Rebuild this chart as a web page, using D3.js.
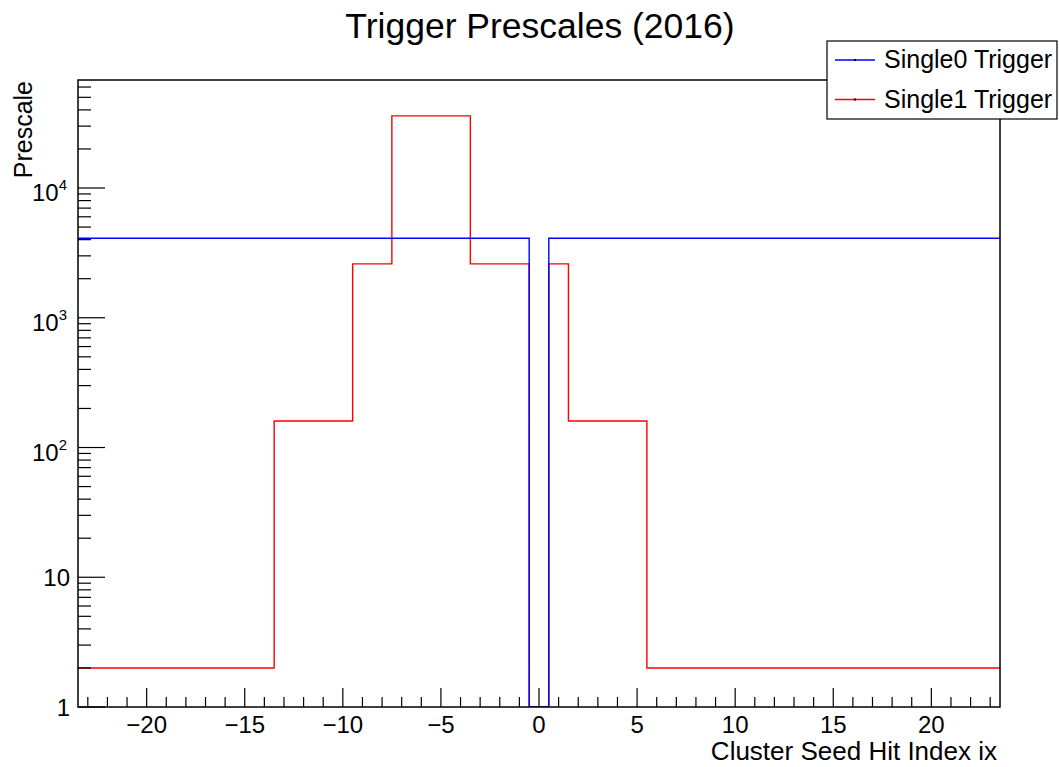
<!DOCTYPE html>
<html>
<head>
<meta charset="utf-8">
<script src="https://cdn.jsdelivr.net/npm/d3@7"></script>
<style>
  body { margin: 0; background: #fff; }
  svg text { font-family: "Liberation Sans", Helvetica, Arial, sans-serif; fill: #000; }
</style>
</head>
<body>
<div id="chart"></div>
<script>
// bin centres (cluster seed hit index ix), one bin per integer
var binCenters = [-23, -22, -21, -20, -19, -18, -17, -16, -15, -14, -13, -12, -11, -10, -9, -8,
                  -7, -6, -5, -4, -3, -2, -1, 0, 1, 2, 3, 4, 5, 6, 7, 8, 9, 10, 11, 12, 13, 14,
                  15, 16, 17, 18, 19, 20, 21, 22, 23];

var single0 = [4096, 4096, 4096, 4096, 4096, 4096, 4096, 4096, 4096, 4096, 4096, 4096, 4096, 4096, 4096, 4096,
               4096, 4096, 4096, 4096, 4096, 4096, 4096, 0, 4096, 4096, 4096, 4096, 4096, 4096, 4096, 4096,
               4096, 4096, 4096, 4096, 4096, 4096, 4096, 4096, 4096, 4096, 4096, 4096, 4096, 4096, 4096];

var single1 = [2, 2, 2, 2, 2, 2, 2, 2, 2, 2, 160, 160, 160, 160, 2600, 2600,
               36000, 36000, 36000, 36000, 2600, 2600, 2600, 0, 2600, 160, 160, 160, 160, 2, 2, 2,
               2, 2, 2, 2, 2, 2, 2, 2, 2, 2, 2, 2, 2, 2, 2];

var xTickValues = [-20, -15, -10, -5, 0, 5, 10, 15, 20];
var yTickValues = [1, 10, 100, 1000, 10000];
var xDomain = [-23.5, 23.5];
var yDomain = [1, 68000];

var seriesList = [
    { name: "Single0 Trigger", values: single0, color: "#0000ff" },
    { name: "Single1 Trigger", values: single1, color: "#ff0000" }
];

var W = 1059, H = 767;
var frame = { left: 78, right: 1000, top: 80, bottom: 707 };

var svg = d3.select("#chart").append("svg")
    .attr("width", W)
    .attr("height", H);

var x = d3.scaleLinear().domain(xDomain).range([frame.left, frame.right]);
var y = d3.scaleLog().domain(yDomain).range([frame.bottom, frame.top]);

svg.append("clipPath").attr("id", "clip")
  .append("rect")
    .attr("x", frame.left).attr("y", frame.top)
    .attr("width", frame.right - frame.left)
    .attr("height", frame.bottom - frame.top);

// histogram outlines as steps; empty bins fall to the bottom of the frame
var step = d3.line()
    .x(function (d) { return x(d[0]); })
    .y(function (d) { return y(Math.max(d[1], yDomain[0])); })
    .curve(d3.curveStepAfter);

function stepPoints(values) {
    var pts = binCenters.map(function (c, i) { return [c - 0.5, values[i]]; });
    pts.push([binCenters[binCenters.length - 1] + 0.5, values[values.length - 1]]);
    return pts;
}

var plot = svg.append("g").attr("clip-path", "url(#clip)");

// red first, blue on top
[seriesList[1], seriesList[0]].forEach(function (s) {
    plot.append("path")
        .attr("d", step(stepPoints(s.values)))
        .attr("fill", "none")
        .attr("stroke", s.color)
        .attr("stroke-width", 1.4);
});

// x axis ticks (inward)
var xAxis = svg.append("g");
var xMinor = d3.range(-23, 24);
xAxis.selectAll("line.minor")
    .data(xMinor)
    .enter().append("line")
    .attr("x1", function (d) { return x(d); })
    .attr("x2", function (d) { return x(d); })
    .attr("y1", frame.bottom)
    .attr("y2", function (d) { return d % 5 === 0 ? frame.bottom - 19 : frame.bottom - 10; })
    .attr("stroke", "#000")
    .attr("stroke-width", 1.2);

xAxis.selectAll("text")
    .data(xTickValues)
    .enter().append("text")
    .attr("x", function (d) { return x(d); })
    .attr("y", 733)
    .attr("text-anchor", "middle")
    .style("font-size", "24px")
    .text(function (d) { return d < 0 ? "\u2212" + Math.abs(d) : String(d); });

// y axis ticks (inward)
var yAxis = svg.append("g");
var yMinor = [];
[1, 10, 100, 1000, 10000].forEach(function (dec) {
    for (var k = 1; k <= 9; k++) {
        var v = dec * k;
        if (v <= yDomain[1]) yMinor.push(v);
    }
});
yAxis.selectAll("line")
    .data(yMinor)
    .enter().append("line")
    .attr("x1", frame.left)
    .attr("x2", function (d) { return yTickValues.indexOf(d) >= 0 ? frame.left + 27 : frame.left + 13; })
    .attr("y1", function (d) { return y(d); })
    .attr("y2", function (d) { return y(d); })
    .attr("stroke", "#000")
    .attr("stroke-width", 1.2);

yTickValues.forEach(function (v) {
    var exp = Math.round(Math.log10(v));
    var t = yAxis.append("text")
        .attr("text-anchor", "end")
        .style("font-size", "24px");
    if (exp <= 1) {
        t.attr("x", 70).attr("y", y(v) + 9).text(String(v));
    } else {
        t.attr("x", 67).attr("y", y(v) + 13);
        t.append("tspan").text("10");
        t.append("tspan")
            .attr("dy", -11)
            .style("font-size", "15px")
            .text(String(exp));
    }
});

// frame
svg.append("rect")
    .attr("x", frame.left).attr("y", frame.top)
    .attr("width", frame.right - frame.left)
    .attr("height", frame.bottom - frame.top)
    .attr("fill", "none")
    .attr("stroke", "#000")
    .attr("stroke-width", 1.5);

// titles
svg.append("text")
    .attr("x", 540).attr("y", 38)
    .attr("text-anchor", "middle")
    .style("font-size", "35.5px")
    .text("Trigger Prescales (2016)");

svg.append("text")
    .attr("x", frame.right - 3).attr("y", 760)
    .attr("text-anchor", "end")
    .style("font-size", "26px")
    .text("Cluster Seed Hit Index ix");

svg.append("text")
    .attr("transform", "translate(32," + (frame.top + 1) + ") rotate(-90)")
    .attr("text-anchor", "end")
    .style("font-size", "25px")
    .text("Prescale");

// legend
var legend = svg.append("g");
legend.append("rect")
    .attr("x", 827).attr("y", 41)
    .attr("width", 230).attr("height", 78)
    .attr("fill", "#fff")
    .attr("stroke", "#000")
    .attr("stroke-width", 1.2);

seriesList.forEach(function (s, i) {
    var ly = 60 + i * 39.5;
    legend.append("line")
        .attr("x1", 835).attr("x2", 875)
        .attr("y1", ly).attr("y2", ly)
        .attr("stroke", s.color)
        .attr("stroke-width", 1.4);
    legend.append("rect")
        .attr("x", 854).attr("y", ly - 1)
        .attr("width", 2).attr("height", 2)
        .attr("fill", "#000");
    legend.append("text")
        .attr("x", 884).attr("y", ly + 8)
        .style("font-size", "25px")
        .text(s.name);
});
</script>
</body>
</html>
